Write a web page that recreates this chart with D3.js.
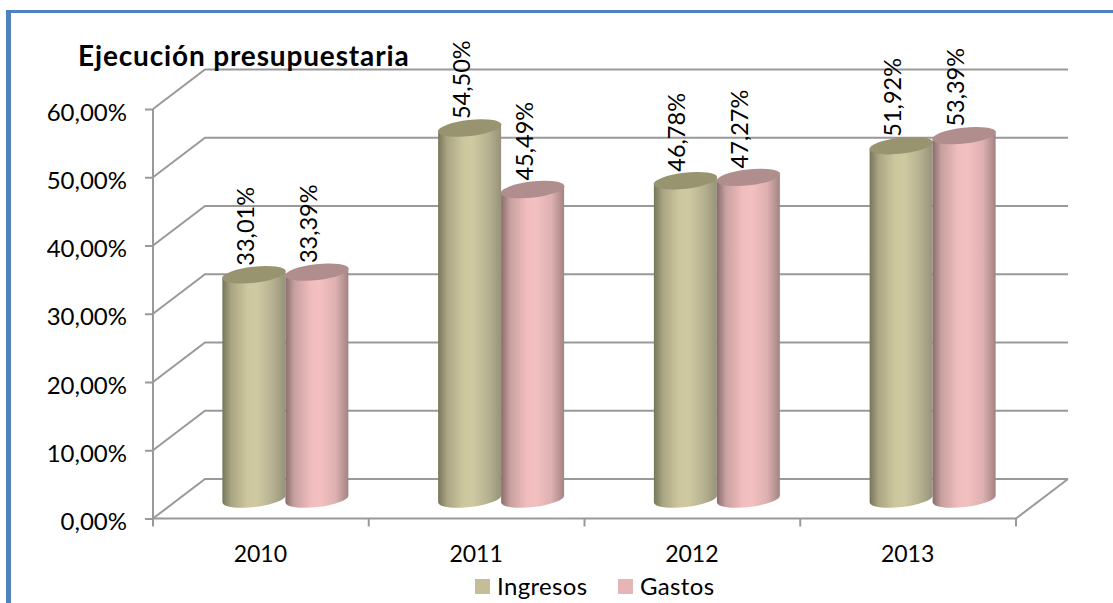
<!DOCTYPE html>
<html lang="es">
<head>
<meta charset="utf-8">
<title>Ejecución presupuestaria</title>
<script src="https://cdn.jsdelivr.net/npm/d3@7/dist/d3.min.js"></script>
<style>
  html, body { margin: 0; padding: 0; background: #fff; overflow: hidden; }
  svg { display: block; }
  text { font-family: Lato, "Open Sans", sans-serif; fill: #000; }
</style>
</head>
<body>
<svg id="chart" width="1113" height="603"></svg>
<script>
const years = ["2010", "2011", "2012", "2013"];
const seriesNames = ["Ingresos", "Gastos"];
const ingresos = [33.01, 54.50, 46.78, 51.92];
const gastos = [33.39, 45.49, 47.27, 53.39];
const yTicks = [0, 10, 20, 30, 40, 50, 60];
const chartTitle = "Ejecución presupuestaria";

const bodyStops = {
  Ingresos: ["#77755a", "#a9a583", "#cdc79f", "#cfc9a2", "#b5b190", "#97937a"],
  Gastos: ["#8a6c6c", "#c79f9f", "#f0bcbd", "#f3c0c1", "#ddb0b1", "#a38383"]
};
const capColor = { Ingresos: "#97946f", Gastos: "#b08e8e" };
const swatchColor = { Ingresos: "#c5bd97", Gastos: "#e6b5b6" };

const W = 1113, H = 603;
const front = { left: 153, right: 1016, bottom: 518.5, top: 109 };
const depth = { x: 52, y: -39.5 };     // offset of the back wall from the front edge
const barShift = { x: 24.5, y: -18.5 }; // cylinders stand midway into the floor
const gridColor = "#999999";

const svg = d3.select("#chart");
const es = d3.formatLocale({ decimal: ",", thousands: ".", grouping: [3], currency: ["", " €"] });
const pct = v => es.format(".2f")(v) + "%";

const y = d3.scaleLinear().domain([0, 60]).range([front.bottom, front.top]);
const x = d3.scaleBand().domain(years).range([front.left, front.right]);
const xInner = d3.scaleBand().domain(seriesNames).range([x.bandwidth() / 2 - 63, x.bandwidth() / 2 + 63]);

// Outer frame: only the top and left edges are visible
const frame = svg.append("g").attr("fill", "#4f81bd");
frame.append("rect").attr("x", 6).attr("y", 10).attr("width", W - 6).attr("height", 3);
frame.append("rect").attr("x", 6).attr("y", 10).attr("width", 5).attr("height", H - 10);

// Back wall gridlines with their diagonal returns to the value axis
const grid = svg.append("g").attr("fill", "none").attr("stroke", gridColor).attr("stroke-width", 2);
grid.selectAll("path").data(yTicks).join("path")
  .attr("d", v => {
    const line = d3.path();
    line.moveTo(front.left, y(v));
    line.lineTo(front.left + depth.x, y(v) + depth.y);
    line.lineTo(front.right + depth.x, y(v) + depth.y);
    return line.toString();
  });

// Floor edge on the right side
grid.append("line")
  .attr("x1", front.right).attr("y1", y(0))
  .attr("x2", front.right + depth.x).attr("y2", y(0) + depth.y);

// Value axis
const yAxis = svg.append("g")
  .attr("transform", `translate(${front.left},0)`)
  .call(d3.axisLeft(y).tickValues(yTicks).tickSize(8).tickPadding(18).tickFormat(pct));
yAxis.selectAll("path, line").attr("stroke", gridColor).attr("stroke-width", 2);
yAxis.select(".domain").attr("d", `M0,${front.top}V${front.bottom}`);
yAxis.selectAll("text")
  .attr("font-size", 24).style("font-family", "Lato, sans-serif").attr("dy", "0.46em");

// Category axis: labels centred in each band, ticks on the band edges
const xAxis = svg.append("g")
  .attr("transform", `translate(0,${front.bottom})`)
  .call(d3.axisBottom(x).tickSize(0).tickPadding(27));
xAxis.select(".domain").attr("stroke", gridColor).attr("stroke-width", 2)
  .attr("d", `M${front.left},0H${front.right}`);
xAxis.selectAll("text")
  .attr("font-size", 23).style("font-family", "Lato, sans-serif").attr("dx", "-0.5");
svg.append("g").selectAll("line")
  .data([...years.map(c => x(c)), front.right])
  .join("line")
  .attr("x1", d => d).attr("x2", d => d)
  .attr("y1", front.bottom).attr("y2", front.bottom + 8)
  .attr("stroke", gridColor).attr("stroke-width", 2);

// Horizontal shading for the cylinder bodies
const defs = svg.append("defs");
seriesNames.forEach(name => {
  const stops = bodyStops[name];
  const grad = defs.append("linearGradient").attr("id", "body-" + name)
    .attr("x1", 0).attr("x2", 1).attr("y1", 0).attr("y2", 0);
  const offsets = [0, 0.14, 0.4, 0.55, 0.8, 1];
  stops.forEach((c, i) => grad.append("stop").attr("offset", offsets[i]).attr("stop-color", c));
});

const rx = 31.5, ry = 8, tilt = -6.5, lean = 3.6;
const rows = years.flatMap((year, i) => [
  { year, name: "Ingresos", value: ingresos[i] },
  { year, name: "Gastos", value: gastos[i] }
]);

const bars = svg.append("g").selectAll("g").data(rows).join("g")
  .attr("transform", d => {
    const cx = x(d.year) + xInner(d.name) + xInner.bandwidth() / 2 + barShift.x;
    return `translate(${cx},0)`;
  });

const baseY = y(0) + barShift.y - 1;
const topY = d => y(d.value) + barShift.y;

bars.append("path")
  .attr("fill", d => `url(#body-${d.name})`)
  .attr("d", d =>
    `M${-rx},${topY(d) + lean}` +
    `L${-rx},${baseY + lean}` +
    `A${rx},${ry} ${tilt} 0 0 ${rx},${baseY - lean}` +
    `L${rx},${topY(d) - lean}Z`);

bars.append("ellipse")
  .attr("rx", rx + 0.5).attr("ry", ry)
  .attr("transform", d => `translate(0,${topY(d)}) rotate(${tilt})`)
  .attr("fill", d => capColor[d.name]);

// Vertical value labels above each cylinder
bars.append("text")
  .attr("transform", d => `translate(0,${topY(d) - 9}) rotate(-90)`)
  .attr("font-size", 23.5)
  .text(d => pct(d.value));

// Title
svg.append("text")
  .attr("x", 78).attr("y", 66)
  .attr("font-size", 28).attr("font-weight", 700).attr("letter-spacing", 0.85)
  .text(chartTitle);

// Legend
const legendPos = { Ingresos: { box: 475, label: 497 }, Gastos: { box: 618, label: 640 } };
const legend = svg.append("g").selectAll("g").data(seriesNames).join("g");
legend.append("rect")
  .attr("x", d => legendPos[d].box).attr("y", 579)
  .attr("width", 15).attr("height", 15).attr("fill", d => swatchColor[d]);
legend.append("text")
  .attr("x", d => legendPos[d].label).attr("y", 595)
  .attr("font-size", 24).attr("letter-spacing", 0.35).text(d => d);
</script>
</body>
</html>
